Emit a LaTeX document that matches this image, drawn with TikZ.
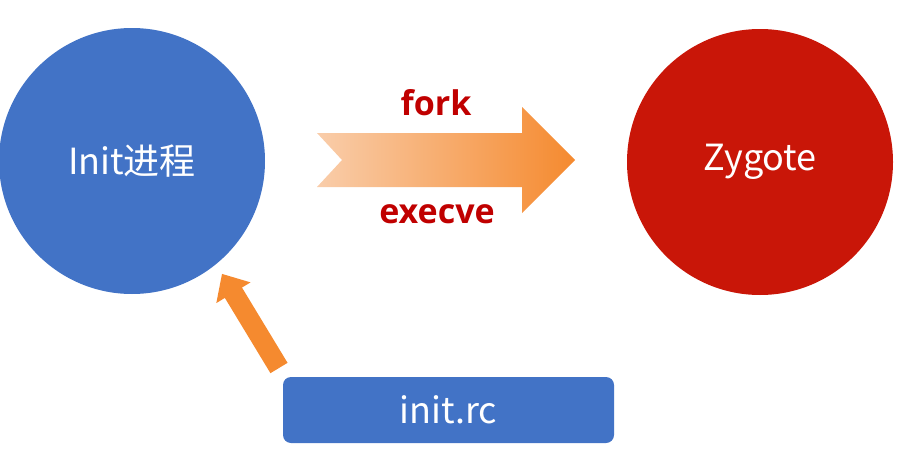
\documentclass[tikz,border=0pt]{standalone}
\usepackage{fontspec}
\setmainfont{Open Sans}
\newfontfamily\cjk{Noto Sans CJK SC}
\definecolor{procblue}{HTML}{4273C6}
\definecolor{procred}{HTML}{C91608}
\definecolor{labelred}{HTML}{C00000}
\definecolor{arroworange}{HTML}{F58A2F}
\definecolor{arrowpeach}{HTML}{F9CDAA}
\tikzset{
  proc/.style={circle, fill=#1, minimum size=266pt, inner sep=0pt, text=white,
    font=\cjk\fontsize{36}{40}\selectfont},
  filebox/.style={rounded corners=8pt, fill=procblue, minimum width=331pt,
    minimum height=66pt, inner sep=0pt, text=white, font=\cjk\fontsize{36}{40}\selectfont},
  oplabel/.style={text=labelred, font=\bfseries\fontsize{34}{38}\selectfont},
}
\begin{document}
\begin{tikzpicture}[x=1pt, y=-1pt]
  \useasboundingbox (0,0) rectangle (900,455);

  % processes
  \node[proc=procblue] (init) at (132,161) {Init进程};
  \node[proc=procred] (zygote) at (760,162) {Zygote};

  % configuration file
  \node[filebox] (rc) at (448.5,410) {init.rc};

  % fork/execve transition arrow with notched tail
  \coordinate (ftail) at (317,160);
  \coordinate (ftip) at (575,160);
  \shade[left color=arrowpeach, right color=arroworange]
    (ftail) ++(0,-27) -- (522,133) -- (522,107) -- (ftip) -- (522,213)
    -- (522,187) -- (317,187) -- (342,160) -- cycle;
  \node[oplabel] (fork) at (436,103) {fork};
  \node[oplabel] (execve) at (437,214) {execve};

  % init.rc is read by init
  \coordinate (rcbase) at (279,368);
  \begin{scope}[shift={(rcbase)}, rotate=121.2]
    \fill[arroworange] (0,-10) -- (88,-10) -- (88,-20) -- (110,0)
      -- (88,20) -- (88,10) -- (0,10) -- cycle;
  \end{scope}
\end{tikzpicture}
\end{document}
